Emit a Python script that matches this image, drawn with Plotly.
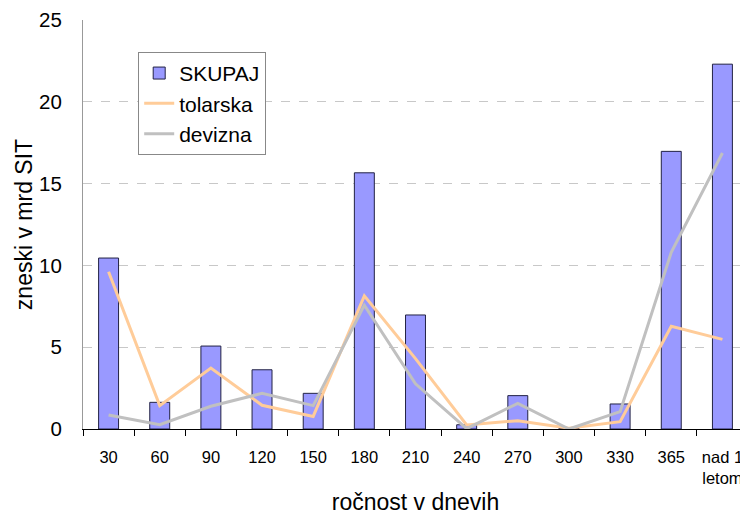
import plotly.graph_objects as go

categories = ["30", "60", "90", "120", "150", "180", "210", "240", "270", "300", "330", "365", "nad 1<br>letom"]
skupaj = [10.45, 1.63, 5.07, 3.62, 2.18, 15.66, 6.97, 0.26, 2.04, 0.05, 1.53, 16.97, 22.3]
tolarska = [9.61, 1.43, 3.72, 1.45, 0.77, 8.14, 4.3, 0.25, 0.51, 0.05, 0.45, 6.28, 5.48]
devizna = [0.86, 0.26, 1.39, 2.18, 1.43, 7.57, 2.76, 0.02, 1.57, 0.0, 1.06, 10.8, 16.87]
y_ticks = [0, 5, 10, 15, 20, 25]

font_main = "Liberation Sans, Arial, sans-serif"

fig = go.Figure()
fig.add_trace(go.Bar(x=categories, y=skupaj, name="SKUPAJ", legendgroup="a",
                     marker=dict(color="#9999FF", line=dict(color="#222244", width=1)),
                     width=0.39))
fig.add_trace(go.Scatter(x=categories, y=tolarska, name="tolarska", mode="lines", legendgroup="b",
                         line=dict(color="#FFCC99", width=3)))
fig.add_trace(go.Scatter(x=categories, y=devizna, name="devizna", mode="lines", legendgroup="c",
                         line=dict(color="#C0C0C0", width=3)))

fig.update_layout(
    width=740, height=507,
    margin=dict(l=75, r=0, t=12, b=86),
    paper_bgcolor="white", plot_bgcolor="white",
    font=dict(family=font_main, size=17, color="black"),
    showlegend=True,
    legend=dict(x=0.083, y=0.922, xanchor="left", yanchor="top",
                bgcolor="white", bordercolor="#888888", borderwidth=1,
                font=dict(size=21), tracegroupgap=0, itemwidth=30),
)
fig.update_xaxes(
    type="category", range=[-0.5, 12.5], automargin=False,
    showline=True, linecolor="black", linewidth=1,
    ticks="outside", tickson="boundaries", ticklen=6, tickcolor="black",
    tickfont=dict(size=16.5), ticklabelstandoff=13, tickangle=0,
    title=dict(text="ročnost v dnevih", font=dict(size=23), standoff=12),
    showgrid=False,
)
fig.update_yaxes(
    range=[0, 25], tickvals=y_ticks, automargin=False,
    showline=True, linecolor="#999999", linewidth=1,
    showgrid=True, gridcolor="#C8C8C8", griddash="dash", gridwidth=1,
    ticks="", ticklabelstandoff=16,
    tickfont=dict(size=20.5),
    title=dict(text="zneski v mrd SIT", font=dict(size=23), standoff=0),
    zeroline=False,
)
fig.write_html("out.html")
